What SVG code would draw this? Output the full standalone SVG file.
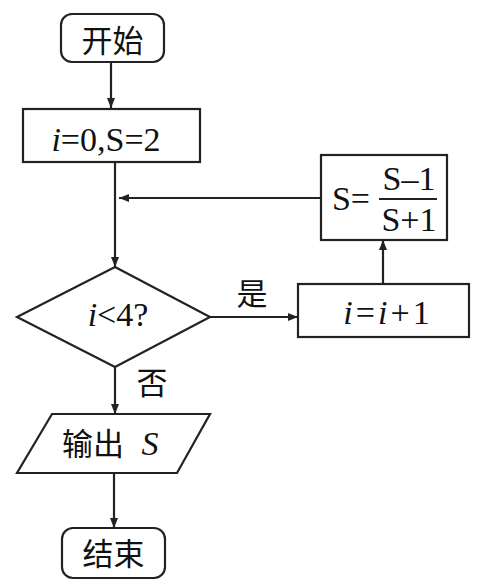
<svg xmlns="http://www.w3.org/2000/svg" width="483" height="588" viewBox="0 0 483 588">
<defs>
<style>
.box{fill:#fff;stroke:#222;stroke-width:2.2}
.ln{fill:none;stroke:#222;stroke-width:2.2}
.t{font-family:'Liberation Serif','DejaVu Serif',serif;font-size:34px;fill:#111;text-anchor:middle}
.c{font-family:'Noto Sans CJK SC',sans-serif;font-size:31px;fill:#111;text-anchor:middle}
.it{font-style:italic}
</style>
<marker id="ah" viewBox="0 0 10 10" refX="10" refY="5" markerWidth="10" markerHeight="10" markerUnits="userSpaceOnUse" orient="auto">
<path d="M0,1 L10,5 L0,9 Z" fill="#222"/>
</marker>
</defs>
<g id="connectors">
<line class="ln" x1="111" y1="63" x2="111" y2="108" marker-end="url(#ah)"/>
<line class="ln" x1="115" y1="162" x2="115" y2="267" marker-end="url(#ah)"/>
<line class="ln" x1="321" y1="198" x2="119" y2="198" marker-end="url(#ah)"/>
<line class="ln" x1="210" y1="317" x2="298" y2="317" marker-end="url(#ah)"/>
<line class="ln" x1="383" y1="284" x2="383" y2="240" marker-end="url(#ah)"/>
<line class="ln" x1="115" y1="367" x2="115" y2="414" marker-end="url(#ah)"/>
<line class="ln" x1="114" y1="473" x2="114" y2="528" marker-end="url(#ah)"/>
<text class="c" x="252" y="305" font-size="25">是</text>
<text class="c" x="152" y="394" font-size="26">否</text>
</g>
<g id="start">
<rect class="box" x="61" y="14" width="103" height="48" rx="11"/>
<text class="c" x="112.5" y="52">开始</text>
</g>
<g id="init">
<rect class="box" x="23" y="109" width="177" height="53"/>
<text class="t" x="106" y="151"><tspan class="it">i</tspan>=0,S=2</text>
</g>
<g id="update">
<rect class="box" x="321" y="155" width="126" height="85"/>
<text class="t" x="351" y="210">S=</text>
<text class="t" x="409" y="190">S–1</text>
<line class="ln" x1="379" y1="199" x2="437" y2="199"/>
<text class="t" x="409" y="231">S+1</text>
</g>
<g id="decision">
<polygon class="box" points="115,267 210,317 115,367 17,317"/>
<text class="t" x="118" y="326"><tspan class="it">i</tspan>&lt;4?</text>
</g>
<g id="incr">
<rect class="box" x="298" y="284" width="171" height="53"/>
<text class="t" x="388" y="324" letter-spacing="3"><tspan class="it">i</tspan>=<tspan class="it">i</tspan>+1</text>
</g>
<g id="output">
<polygon class="box" points="52,414 210,414 177,473 17,473"/>
<text class="c" x="93" y="455">输出</text>
<text class="t it" x="150" y="455">S</text>
</g>
<g id="end">
<rect class="box" x="62" y="528" width="103" height="50" rx="11"/>
<text class="c" x="113.5" y="565">结束</text>
</g>
</svg>
